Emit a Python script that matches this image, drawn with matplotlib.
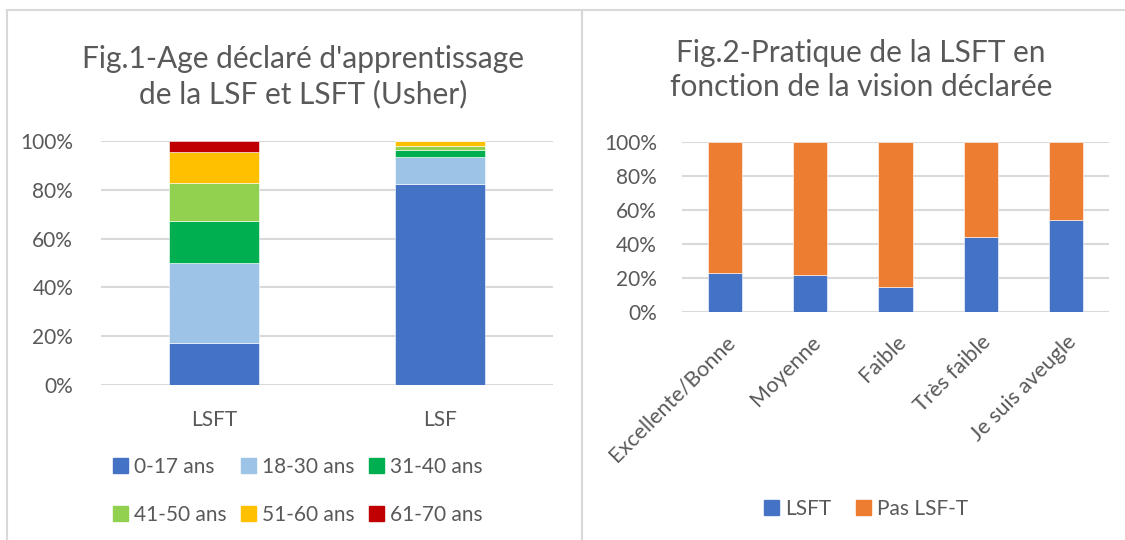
import matplotlib
matplotlib.use("Agg")
from matplotlib import pyplot as plt
from matplotlib.patches import Patch, Rectangle
from matplotlib.ticker import PercentFormatter

plt.rcParams["font.family"] = ["Lato", "DejaVu Sans"]

# Fig.1 data
groups = ["LSFT", "LSF"]
ages = ["0-17 ans", "18-30 ans", "31-40 ans", "41-50 ans", "51-60 ans", "61-70 ans"]
lsft_ages = [17.4, 32.6, 17.4, 15.2, 13.0, 4.4]
lsf_ages = [82.5, 11.1, 2.7, 1.8, 1.9, 0.0]
age_colors = ["#4472C4", "#9DC3E6", "#00B050", "#92D050", "#FFC000", "#C00000"]

# Fig.2 data
vision = ["Excellente/Bonne", "Moyenne", "Faible", "Très faible", "Je suis aveugle"]
lsft_pct = [22.9, 21.9, 14.7, 44.0, 53.9]
pas_pct = [77.1, 78.1, 85.3, 56.0, 46.1]

txt = "#595959"
grid = "#D9D9D9"
fs = 15

fig = plt.figure(figsize=(11.25, 5.4), dpi=100)

# panel borders
fig.patches.append(Rectangle((7 / 1125, -0.1), 575 / 1125, 1.1 - 10 / 540,
                             transform=fig.transFigure, fill=False,
                             edgecolor=grid, linewidth=1.5))
fig.patches.append(Rectangle((582 / 1125, -0.1), 600 / 1125, 1.1 - 10 / 540,
                             transform=fig.transFigure, fill=False,
                             edgecolor=grid, linewidth=1.5))


def style(ax, pad):
    ax.set_ylim(0, 100)
    ax.set_yticks(range(0, 101, 20))
    ax.yaxis.set_major_formatter(PercentFormatter(decimals=0))
    ax.grid(axis="y", color=grid, linewidth=1.5)
    ax.set_axisbelow(True)
    for s in ax.spines.values():
        s.set_visible(False)
    ax.tick_params(axis="both", length=0, labelsize=fs, labelcolor=txt)
    ax.tick_params(axis="y", pad=pad)


# Fig.1
ax1 = fig.add_axes([101 / 1125, 1 - 385 / 540, 452 / 1125, 244 / 540])
bottom = [0, 0]
for i, lab in enumerate(ages):
    vals = [lsft_ages[i], lsf_ages[i]]
    ax1.bar(range(len(groups)), vals, 0.4, bottom=bottom, color=age_colors[i],
            edgecolor="white", linewidth=0.4, label=lab)
    bottom = [b + v for b, v in zip(bottom, vals)]
ax1.set_xlim(-0.5, 1.5)
ax1.set_xticks(range(len(groups)))
ax1.set_xticklabels(groups)
style(ax1, 20)
ax1.tick_params(axis="x", pad=18)

fig.text(303 / 1125, 1 - 77 / 540, "Fig.1-Age déclaré d'apprentissage\nde la LSF et LSFT (Usher)",
         ha="center", va="center", fontsize=21.5, color=txt, linespacing=1.3)

# legend filled row by row like the original
order = [0, 3, 1, 4, 2, 5]
h1 = [Patch(color=age_colors[k]) for k in order]
fig.legend(h1, [ages[k] for k in order], loc="center",
           bbox_to_anchor=(298 / 1125, 1 - 491 / 540),
           ncol=3, frameon=False, fontsize=fs, labelcolor=txt,
           handlelength=0.7, handleheight=0.7, handletextpad=0.3,
           columnspacing=0.7, labelspacing=1.35)

# Fig.2
ax2 = fig.add_axes([682 / 1125, 1 - 312.3 / 540, 427 / 1125, 170.6 / 540])
x = range(len(vision))
ax2.bar(x, lsft_pct, 0.4, color="#4472C4", edgecolor="white", linewidth=0.4, label="LSFT")
ax2.bar(x, pas_pct, 0.4, bottom=lsft_pct, color="#ED7D31", edgecolor="white",
        linewidth=0.4, label="Pas LSF-T")
ax2.set_xlim(-0.5, len(vision) - 0.5)
ax2.set_xticks(list(x))
ax2.set_xticklabels(vision, rotation=45, ha="right", rotation_mode="anchor")
style(ax2, 18)
ax2.tick_params(axis="x", pad=14, labelsize=15.5)

fig.text(861 / 1125, 1 - 70 / 540, "Fig.2-Pratique de la LSFT en\nfonction de la vision déclarée",
         ha="center", va="center", fontsize=21.5, color=txt, linespacing=1.3)

fig.legend([Patch(color="#4472C4"), Patch(color="#ED7D31")], ["LSFT", "Pas LSF-T"],
           loc="center", bbox_to_anchor=(866 / 1125, 1 - 509 / 540), ncol=2,
           frameon=False, fontsize=fs, labelcolor=txt,
           handlelength=0.7, handleheight=0.7, handletextpad=0.3, columnspacing=1.2)

fig.savefig("out.png", dpi=100)
